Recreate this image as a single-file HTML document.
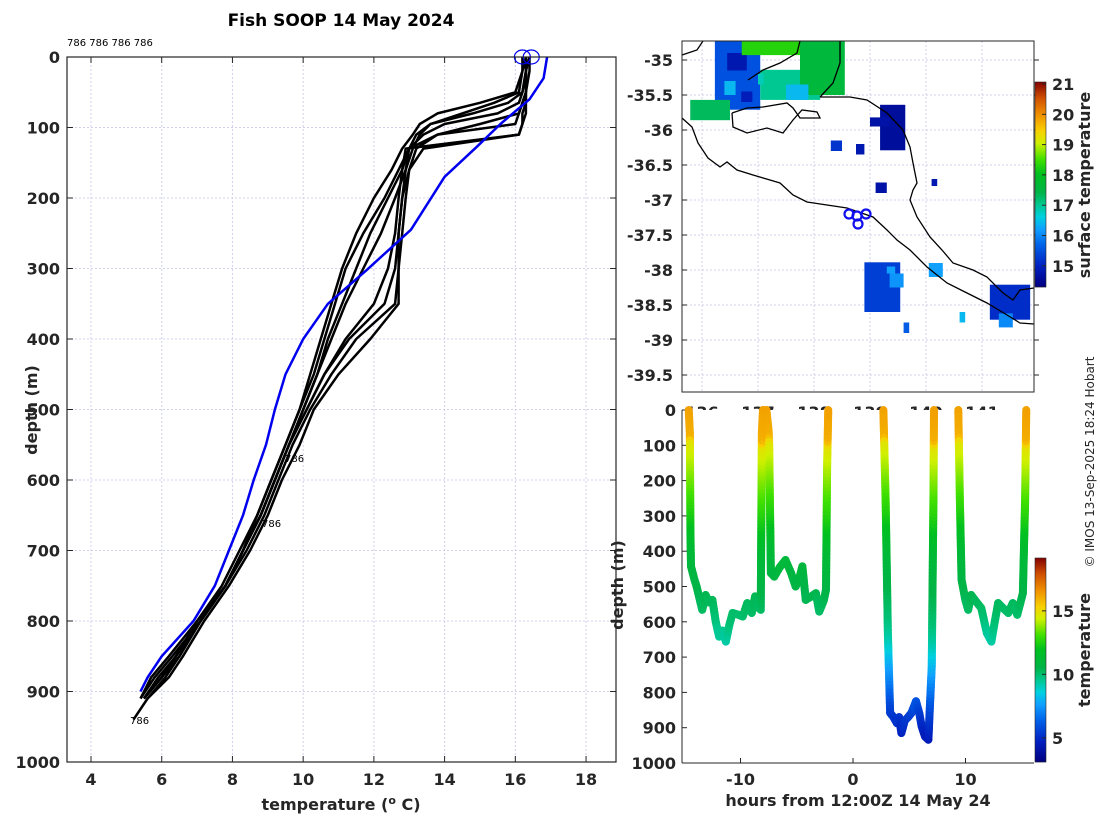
<!DOCTYPE html>
<html><head><meta charset="utf-8"><style>
html,body{margin:0;padding:0;background:#fff}
svg{display:block;font-family:"DejaVu Sans","Liberation Sans",sans-serif}
.tk{font-size:16px;font-weight:bold;fill:#262626}
</style></head><body>
<svg id="s" width="1100" height="820" viewBox="0 0 1100 820" xmlns="http://www.w3.org/2000/svg">
<rect x="0" y="0" width="1100" height="820" fill="#fff"/>
<text x="341" y="26" text-anchor="middle" font-size="17" font-weight="bold" fill="#000">Fish SOOP 14 May 2024</text>
<text x="67" y="46" font-size="10" fill="#000">786 786 786 786</text>
<text transform="translate(37,410) rotate(-90)" text-anchor="middle" class="tk" font-size="17">depth (m)</text>
<text x="341" y="810" text-anchor="middle" class="tk" font-size="17">temperature (<tspan dy="-6" font-size="11">o</tspan><tspan dy="6"> C)</tspan></text>
<text transform="translate(1094,462) rotate(-90)" text-anchor="middle" font-size="12" fill="#262626">© IMOS 13-Sep-2025 18:24 Hobart</text>
<text transform="translate(1090,185) rotate(-90)" text-anchor="middle" class="tk">surface temperature</text>
<text transform="translate(1090,650) rotate(-90)" text-anchor="middle" class="tk">temperature</text>
</svg>
<script>
// ---------- data ----------
const profDepths=[0,20,50,65,80,95,110,130,160,200,250,300,350,400,450,500,550,600,650,700,750,800,850,880,910,940];
const prof1=[16.3,16.3,16.3,16.2,16.1,16.0,13.8,13.0,12.9,12.8,12.7,12.7,12.7,11.9,11.0,10.3,9.9,9.4,9.0,8.5,7.9,7.2,6.6,6.2,5.6,5.2];
const prof2=[16.4,16.3,16.3,16.3,16.3,16.2,16.1,13.4,13.0,12.9,12.8,12.7,12.6,11.5,10.8,10.2,9.7,9.3,8.9,8.4,7.8,7.1,6.5,6.0,5.5,5.3];
const prof3=[16.2,16.2,16.1,15.4,14.5,13.6,13.2,13.0,12.8,12.4,11.9,11.5,11.1,10.7,10.4,10.0,9.6,9.2,8.8,8.3,7.8,7.1,6.4,6.0,5.5,5.3];
const prof4=[16.3,16.2,16.0,15.0,13.8,13.3,13.1,12.8,12.5,12.0,11.5,11.1,10.8,10.5,10.2,9.9,9.5,9.1,8.7,8.3,7.8,7.1,6.3,5.8,5.4,5.2];
const prof5=[16.3,16.3,16.2,15.8,14.8,13.6,13.3,13.1,12.9,12.6,12.2,11.7,11.2,10.8,10.4,10.0,9.6,9.2,8.8,8.3,7.8,7.0,6.4,5.9,5.5,5.3];
const prof6=[16.3,16.3,16.2,16.1,15.5,14.0,13.4,13.0,12.7,12.3,11.7,11.2,10.9,10.6,10.3,9.9,9.5,9.1,8.7,8.2,7.7,7.0,6.2,5.7,5.4,5.2];
const prof7=[16.3,16.3,16.3,16.2,16.1,15.0,13.8,13.2,13.0,12.8,12.7,12.6,12.3,11.3,10.6,10.1,9.6,9.2,8.8,8.3,7.8,7.1,6.5,6.1,5.6,5.4];
const prof8=[16.4,16.4,16.3,16.3,16.2,16.2,16.1,12.9,12.8,12.7,12.6,12.4,12.0,11.2,10.6,10.1,9.6,9.2,8.8,8.3,7.8,7.1,6.4,6.0,5.5,5.3];
const climDepths=[0,30,60,94,128,170,245,302,350,400,450,500,550,600,650,700,750,800,850,880,900];
const climTemps=[16.9,16.8,16.4,15.6,14.9,14.0,13.05,11.8,10.7,10.0,9.5,9.2,8.95,8.6,8.3,7.9,7.5,6.9,6.0,5.6,5.4];
const tempTicks=[4,6,8,10,12,14,16,18];
const depthTicks=[0,100,200,300,400,500,600,700,800,900,1000];
const latTicks=[-35,-35.5,-36,-36.5,-37,-37.5,-38,-38.5,-39,-39.5];
const lonTicks=[136,137,138,139,140,141];
const sstTicks=[15,16,17,18,19,20,21];
const hourTicks=[-10,0,10];
const trackTempTicks=[5,10,15];
// dive track: hours, depth
const trackHours=[-14.6,-14.5,-14.45,-14.4,-14.1,-13.9,-13.6,-13.4,-13.1,-12.8,-12.5,-12.2,-11.9,-11.6,-11.3,-11.0,-10.7,-10.2,-9.8,-9.4,-9.0,-8.7,-8.4,-8.2,-8.1,-8.0,-7.8,-7.7,-7.5,-7.45,-7.3,-7.0,-6.5,-6.0,-5.5,-5.1,-4.8,-4.5,-4.2,-3.8,-3.3,-3.0,-2.6,-2.4,-2.3,-2.2];
const trackDepth=[0,66,349,443,480,500,540,566,524,545,538,600,642,625,656,610,575,580,585,547,575,528,560,566,66,0,90,0,60,100,462,472,445,425,462,500,480,443,538,530,519,571,540,509,160,0];
const track2Hours=[2.7,2.9,3.1,3.3,3.6,3.9,4.1,4.3,4.6,4.9,5.2,5.6,5.9,6.1,6.4,6.7,7.0,7.15,7.2];
const track2Depth=[0,255,632,858,870,887,870,915,880,870,858,825,860,896,925,934,726,255,0];
const track3Hours=[9.36,9.5,9.65,10.0,10.24,10.5,11.0,11.4,11.9,12.3,12.6,12.9,13.3,13.8,14.2,14.6,15.1,15.3,15.4];
const track3Depth=[0,255,481,540,566,524,545,561,632,656,600,547,560,575,547,580,519,255,0];
// depth -> temperature lookup for track colouring
const lookupDepth=[0,80,100,200,300,400,500,600,650,750,850,930];
const lookupTemp=[16.3,16.0,14.8,13.6,12.5,11.2,10.6,9.9,9.3,7.5,5.6,4.5];
// SST raster blocks: lon0, lon1, lat0, lat1, temp
const sstLon0=[136.23,135.79,136.45,137.04,137.75,136.71,137.5,139.18,139.0,138.75,139.1,138.9,139.35,141.14,141.3,138.3,140.05,139.6,136.4,136.7,137.0,139.3,140.6,140.1];
const sstLon1=[137.04,136.5,136.8,138.11,138.55,137.75,137.9,139.63,139.35,138.9,139.3,139.54,139.6,141.86,141.55,138.5,140.3,139.7,136.6,136.9,137.1,139.45,140.7,140.2];
const sstLat0=[-34.73,-35.57,-34.9,-35.14,-34.73,-34.73,-35.35,-35.64,-35.82,-36.2,-36.75,-37.89,-38.05,-38.21,-38.62,-36.15,-37.9,-38.75,-35.3,-35.45,-35.2,-37.95,-38.6,-36.7];
const sstLat1=[-35.71,-35.86,-35.15,-35.57,-35.5,-34.93,-35.57,-36.29,-35.95,-36.35,-36.9,-38.6,-38.25,-38.71,-38.82,-36.3,-38.1,-38.9,-35.5,-35.6,-35.35,-38.05,-38.75,-36.8];
const sstTemp=[15.5,17.3,14.8,17.0,17.6,18.3,16.4,14.6,14.7,14.8,14.7,15.3,16.1,15.1,16.0,15.2,16.2,15.6,16.4,14.9,16.8,16.2,16.4,14.8];
// ---------- helpers ----------
const NS="http://www.w3.org/2000/svg";const svg=document.getElementById('s');
function mk(tag,at,parent){const e=document.createElementNS(NS,tag);for(const k in at)e.setAttribute(k,at[k]);(parent||svg).appendChild(e);return e;}
const cmStops=[[0,'#000080'],[0.1,'#0020c0'],[0.2,'#0060e8'],[0.28,'#10a0ff'],[0.34,'#00d0e0'],[0.40,'#00c890'],[0.46,'#00b448'],[0.55,'#00c020'],[0.62,'#40e000'],[0.7,'#d0f000'],[0.76,'#f8d000'],[0.84,'#f09000'],[0.92,'#d05000'],[1,'#800000']];
function hx(c){return [1,3,5].map(i=>parseInt(c.substr(i,2),16));}
function cmap(f){f=Math.max(0,Math.min(1,f));for(let i=1;i<cmStops.length;i++){if(f<=cmStops[i][0]){const a=cmStops[i-1],b=cmStops[i];const u=(f-a[0])/(b[0]-a[0]);const ca=hx(a[1]),cb=hx(b[1]);return 'rgb('+ca.map((v,j)=>Math.round(v+(cb[j]-v)*u)).join(',')+')';}}return '#800000';}
function interp(x,xs,ys){if(x<=xs[0])return ys[0];for(let i=1;i<xs.length;i++){if(x<=xs[i]){const u=(x-xs[i-1])/(xs[i]-xs[i-1]);return ys[i-1]+u*(ys[i]-ys[i-1]);}}return ys[ys.length-1];}
// ---------- left profile plot ----------
const L={x0:67,x1:616,y0:57,y1:762};
const xT=t=>91+(t-4)*35.36, yD=d=>57+d*0.705;
const gl=mk('g',{});


mk('rect',{x:L.x0,y:L.y0,width:L.x1-L.x0,height:L.y1-L.y0,fill:'#fff'},gl);
tempTicks.forEach(t=>{const l=mk('line',{x1:xT(t),x2:xT(t),y1:L.y0,y2:L.y1,stroke:'#d0d0ec','stroke-dasharray':'2,2','stroke-width':1},gl);
 const tx=mk('text',{x:xT(t),y:785,'text-anchor':'middle',class:'tk'},gl);tx.textContent=t;
 mk('line',{x1:xT(t),x2:xT(t),y1:L.y1,y2:L.y1-6,stroke:'#262626'},gl);mk('line',{x1:xT(t),x2:xT(t),y1:L.y0,y2:L.y0+6,stroke:'#262626'},gl);});
depthTicks.forEach(d=>{const l=mk('line',{x1:L.x0,x2:L.x1,y1:yD(d),y2:yD(d),stroke:'#d0d0ec','stroke-dasharray':'2,2','stroke-width':1},gl);
 const tx=mk('text',{x:60,y:yD(d)+6,'text-anchor':'end',class:'tk'},gl);tx.textContent=d;
 mk('line',{x1:L.x0,x2:L.x0+6,y1:yD(d),y2:yD(d),stroke:'#262626'},gl);mk('line',{x1:L.x1,x2:L.x1-6,y1:yD(d),y2:yD(d),stroke:'#262626'},gl);});
[prof1,prof2,prof3,prof4,prof5,prof6,prof7,prof8].forEach((p,i)=>{const n=(i==0)?profDepths.length:profDepths.length-1;let pts=[];for(let k=0;k<n;k++)pts.push(xT(p[k]).toFixed(1)+','+yD(profDepths[k]).toFixed(1));
 const pl=mk('polyline',{points:pts.join(' '),fill:'none',stroke:'#000','stroke-width':2.5,'stroke-linejoin':'round'},gl);
 
 });
{let pts=climDepths.map((d,k)=>xT(climTemps[k]).toFixed(1)+','+yD(d).toFixed(1));const pl=mk('polyline',{points:pts.join(' '),fill:'none',stroke:'#0000ee','stroke-width':2.5},gl);
 
 }
[16.2,16.45].forEach(t=>{const c=mk('ellipse',{cx:xT(t),cy:L.y0,rx:8,ry:7,fill:'none',stroke:'#0000ee','stroke-width':1.2},gl);});
[[130,724],[262,527],[285,462]].forEach(p=>{const t=mk('text',{x:p[0],y:p[1],'font-size':10,fill:'#000'},gl);t.textContent='786';});
mk('rect',{x:L.x0,y:L.y0,width:L.x1-L.x0,height:L.y1-L.y0,fill:'none',stroke:'#262626','stroke-width':1.2},gl);
// ---------- map ----------
const M={x0:682,x1:1034,y0:41,y1:392};
const xLon=l=>702+(l-136)*56, yLat=l=>60+(-35-l)*70;
const gm=mk('g',{});
mk('rect',{x:M.x0,y:M.y0,width:M.x1-M.x0,height:M.y1-M.y0,fill:'#fff'},gm);
lonTicks.forEach(l=>{mk('line',{x1:xLon(l),x2:xLon(l),y1:M.y0,y2:M.y1,stroke:'#d0d0ec','stroke-dasharray':'2,2'},gm);
 const tx=mk('text',{x:xLon(l),y:418,'text-anchor':'middle',class:'tk'});tx.textContent=l;});
latTicks.forEach(l=>{mk('line',{x1:M.x0,x2:M.x1,y1:yLat(l),y2:yLat(l),stroke:'#d0d0ec','stroke-dasharray':'2,2'},gm);
 mk('line',{x1:M.x0,x2:M.x0+5,y1:yLat(l),y2:yLat(l),stroke:'#262626'},gm);mk('line',{x1:M.x1,x2:M.x1+5,y1:yLat(l),y2:yLat(l),stroke:'#262626'},gm);
 const tx=mk('text',{x:673,y:yLat(l)+6,'text-anchor':'end',class:'tk'},gm);tx.textContent=l;});
const sstCol=t=>cmap((t-14.3)/(21.07-14.3));
sstLon0.forEach((l0,i)=>{const x=xLon(l0),y=yLat(sstLat0[i]);const r=mk('rect',{x:x,y:y,width:xLon(sstLon1[i])-x,height:yLat(sstLat1[i])-y,fill:sstCol(sstTemp[i])},gm);});
const coasts=[
 [[682,118],[692,127],[698,143],[708,158],[720,167],[727,162],[737,170],[753,175],[770,180],[780,183],[793,195],[807,202],[827,205],[847,208],[873,217],[887,230],[897,240],[910,250],[927,267],[947,283],[967,293],[987,303],[1007,315],[1020,323],[1034,324]],
 [[820,97],[850,97],[867,100],[887,113],[903,130],[910,147],[913,163],[917,183],[913,190],[910,200],[917,217],[930,237],[942,250],[953,263],[973,270],[987,277],[1003,293],[1013,300],[1020,290],[1034,288]],
 [[732,113],[747,108],[763,107],[787,103],[793,108],[800,118],[820,118],[817,112],[802,110],[793,120],[783,133],[767,128],[747,133],[733,127],[732,113]],
 [[748,80],[763,70],[780,63],[797,53],[800,41]],
 [[682,55],[697,50],[703,41]],
 [[840,41],[840,63],[833,83],[820,97]]];
coasts.forEach(c=>{const p=mk('polyline',{points:c.map(q=>q.join(',')).join(' '),fill:'none',stroke:'#000','stroke-width':1.3},gm);});
[[849,214],[857,216],[858,224],[866,214]].forEach(q=>{const c=mk('circle',{cx:q[0],cy:q[1],r:4.5,fill:'none',stroke:'#1010ee','stroke-width':2.2},gm);});
mk('rect',{x:M.x0,y:M.y0,width:M.x1-M.x0,height:M.y1-M.y0,fill:'none',stroke:'#262626'},gm);
// map colorbar
const cb1=mk('g',{});
for(let i=0;i<205;i++){mk('rect',{x:1035,y:287-i-1,width:11,height:1.2,fill:cmap(i/205)},cb1);}
const ySst=t=>287-(t-14.3)*30.3;
sstTicks.forEach(t=>{const tx=mk('text',{x:1052,y:ySst(t)+6,class:'tk'},cb1);tx.textContent=t;mk('line',{x1:1042,x2:1046,y1:ySst(t),y2:ySst(t),stroke:'#262626'},cb1);});
mk('rect',{x:1035,y:82,width:11,height:205,fill:'none',stroke:'#262626','stroke-width':0.6},cb1);
// ---------- dive track ----------
const B={x0:682,x1:1034,y0:410,y1:763};
const xH=h=>853+h*11.25, yD2=d=>410+d*0.353;
const gb=mk('g',{});
mk('rect',{x:B.x0,y:B.y0,width:B.x1-B.x0,height:B.y1-B.y0,fill:'#fff'},gb);
depthTicks.forEach(d=>{const tx=mk('text',{x:676,y:yD2(d)+6,'text-anchor':'end',class:'tk'},gb);tx.textContent=d;
 mk('line',{x1:B.x0,x2:B.x0+5,y1:yD2(d),y2:yD2(d),stroke:'#262626'},gb);});
hourTicks.forEach(h=>{const tx=mk('text',{x:xH(h),y:785,'text-anchor':'middle',class:'tk'},gb);tx.textContent=h;
 mk('line',{x1:xH(h),x2:xH(h),y1:B.y1,y2:B.y1-5,stroke:'#262626'},gb);});
const trkCol=t=>cmap((t-3.1)/(19.2-3.1));
[[trackHours,trackDepth],[track2Hours,track2Depth],[track3Hours,track3Depth]].forEach((tr,ti)=>{const g=mk('g',{},gb);
 for(let i=1;i<tr[0].length;i++){const h0=tr[0][i-1],h1=tr[0][i],d0=tr[1][i-1],d1=tr[1][i];const n=Math.max(1,Math.ceil(Math.abs(d1-d0)/10));
  for(let k=0;k<n;k++){const a=k/n,b=(k+1)/n;const dm=d0+(d1-d0)*(a+b)/2;
   mk('line',{x1:xH(h0+(h1-h0)*a),y1:yD2(d0+(d1-d0)*a),x2:xH(h0+(h1-h0)*b),y2:yD2(d0+(d1-d0)*b),stroke:trkCol(interp(dm,lookupDepth,lookupTemp)),'stroke-width':8,'stroke-linecap':'round'},g);}}});
mk('line',{x1:B.x0,x2:B.x0,y1:B.y0,y2:B.y1,stroke:'#262626'},gb);
mk('line',{x1:B.x0,x2:B.x1,y1:B.y1,y2:B.y1,stroke:'#262626'},gb);
{const t=mk('text',{transform:'translate(623,585) rotate(-90)','text-anchor':'middle',class:'tk','font-size':17});t.textContent='depth (m)';}
{const t=mk('text',{x:858,y:806,'text-anchor':'middle',class:'tk','font-size':17});t.textContent='hours from 12:00Z 14 May 24';}
const cb2=mk('g',{});
for(let i=0;i<204;i++){mk('rect',{x:1035,y:762-i-1,width:11,height:1.2,fill:cmap(i/204)},cb2);}
const yTc=t=>762-(t-3.1)*12.7;
trackTempTicks.forEach(t=>{const tx=mk('text',{x:1052,y:yTc(t)+6,class:'tk'},cb2);tx.textContent=t;mk('line',{x1:1042,x2:1046,y1:yTc(t),y2:yTc(t),stroke:'#262626'},cb2);});
mk('rect',{x:1035,y:558,width:11,height:204,fill:'none',stroke:'#262626','stroke-width':0.6},cb2);
</script>
</body></html>
